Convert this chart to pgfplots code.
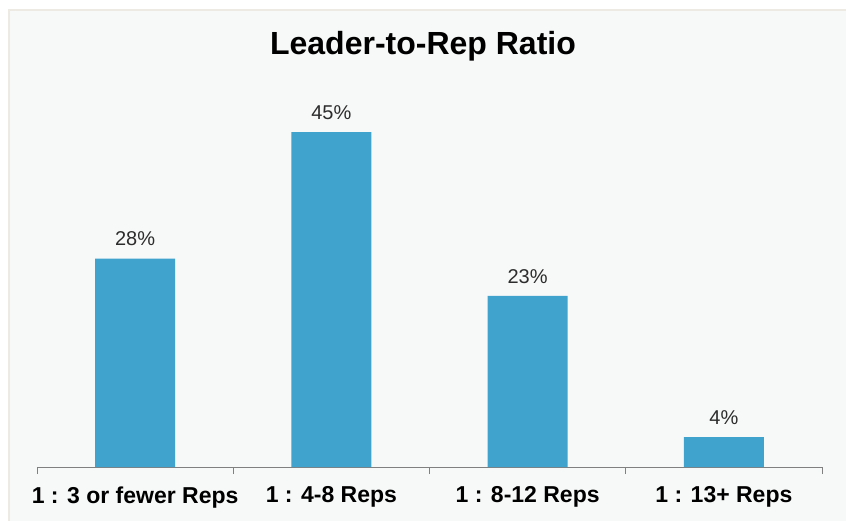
\documentclass[border=0pt]{standalone}
\usepackage{pgfplots}
\pgfplotsset{compat=1.18}
\usepackage{fontspec}
\setmainfont{Liberation Sans}
\definecolor{barblue}{RGB}{64,163,206}
\definecolor{panelbg}{RGB}{247,248,248}
\definecolor{panelborder}{RGB}{236,234,226}
\definecolor{axisgray}{RGB}{128,128,128}
\definecolor{valtext}{RGB}{45,45,45}
\begin{document}
\begin{tikzpicture}
\path[use as bounding box] (0,0) rectangle (846pt,520pt);
\fill[panelbg, draw=panelborder, line width=1.2pt] (9pt,-2pt) rectangle (848pt,510pt);
\node[font=\fontsize{32}{36}\selectfont\bfseries, text=black] at (423pt,474pt) {Leader-to-Rep Ratio};
\begin{axis}[
  at={(37pt,53pt)}, anchor=south west,
  scale only axis,
  width=785pt, height=372pt,
  xmin=-0.5, xmax=3.5, ymin=0, ymax=50,
  axis x line*=bottom,
  axis y line=none,
  axis line style={axisgray, line width=1pt},
  ybar, bar width=80pt,
  xtick={0,1,2,3},
  xticklabels={1 : 3 or fewer Reps, 1 : 4-8 Reps, 1 : 8-12 Reps, 1 : 13+ Reps},
  xtick style={axisgray, line width=1pt},
  major tick length=0pt,
  extra x ticks={-0.5,0.5,1.5,2.5,3.5},
  extra x tick labels={},
  extra x tick style={major tick length=7pt, tick align=outside},
  xticklabel style={font=\fontsize{23}{27}\selectfont\bfseries, text=black, yshift=-16pt},
  /pgf/number format/assume math mode=true,
  nodes near coords={\pgfmathprintnumber{\pgfplotspointmeta}\%},
  nodes near coords style={font=\fontsize{20}{24}\selectfont, text=valtext, yshift=9pt},
  clip=false,
]
\addplot[fill=barblue, draw=none] coordinates {(0,28) (1,45) (2,23) (3,4)};
\end{axis}
\end{tikzpicture}
\end{document}
